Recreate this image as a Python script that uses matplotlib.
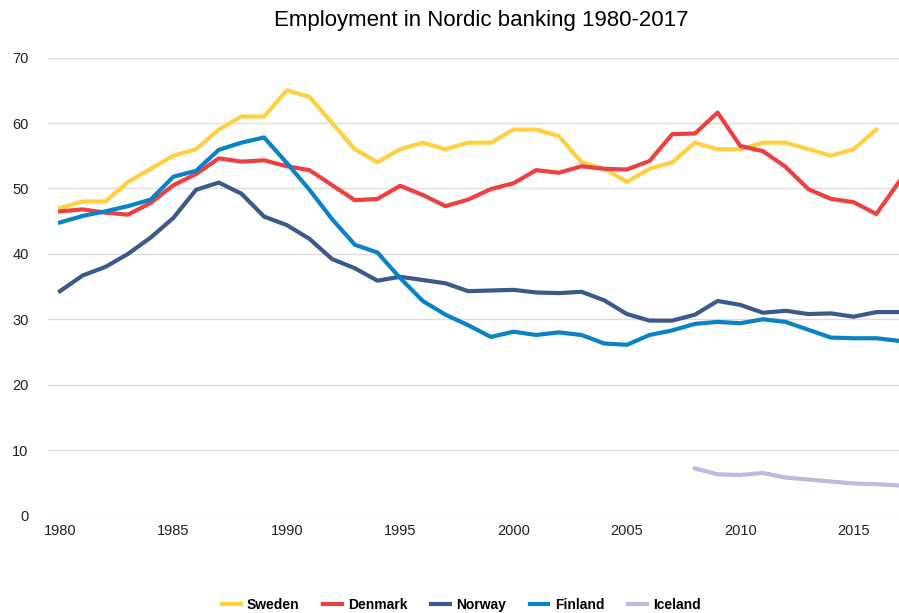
import matplotlib.pyplot as plt

plt.rcParams["font.family"] = ["Liberation Sans", "DejaVu Sans"]

# Employment (thousands)
years = list(range(1980, 2018))
sweden = [47, 48, 48, 51, 53, 55, 56, 59, 61, 61, 65, 64, 60, 56, 54, 56, 57, 56, 57, 57,
          59, 59, 58, 54, 53, 51, 53, 54, 57, 56, 56, 57, 57, 56, 55, 56, 59, None]
denmark = [46.5, 46.8, 46.3, 46.0, 47.8, 50.5, 52.2, 54.6, 54.1, 54.3, 53.4, 52.8, 50.5, 48.2,
           48.4, 50.4, 49.0, 47.3, 48.3, 49.9, 50.8, 52.8, 52.4, 53.4, 53.0, 52.9, 54.2, 58.3,
           58.4, 61.6, 56.5, 55.7, 53.3, 49.9, 48.4, 47.9, 46.1, 51.0]
norway = [34.3, 36.7, 38.0, 40.0, 42.5, 45.5, 49.8, 50.9, 49.2, 45.7, 44.4, 42.3, 39.2, 37.8,
          35.9, 36.5, 36.0, 35.5, 34.3, 34.4, 34.5, 34.1, 34.0, 34.2, 32.9, 30.8, 29.8, 29.8,
          30.7, 32.8, 32.2, 31.0, 31.3, 30.8, 30.9, 30.4, 31.1, 31.1]
finland = [44.8, 45.8, 46.5, 47.3, 48.3, 51.8, 52.7, 55.9, 57.0, 57.8, 53.9, 49.8, 45.3, 41.4,
           40.2, 36.3, 32.8, 30.7, 29.1, 27.3, 28.1, 27.6, 28.0, 27.6, 26.3, 26.1, 27.6, 28.3,
           29.3, 29.6, 29.4, 30.0, 29.6, 28.4, 27.2, 27.1, 27.1, 26.7]
iceland_years = list(range(2008, 2018))
iceland = [7.2, 6.3, 6.2, 6.5, 5.8, 5.5, 5.2, 4.9, 4.8, 4.6]

fig = plt.figure(figsize=(8.99, 6.13), dpi=100)
ax = fig.add_axes([0.0534, 0.159, 0.9466, 0.747])

sw_years = [y for y, v in zip(years, sweden) if v is not None]
sw_vals = [v for v in sweden if v is not None]

lw = 3.0
ax.plot(sw_years, sw_vals, color="#FFD03F", lw=lw, label="Sweden")
ax.plot(years, denmark, color="#EE4040", lw=lw, label="Denmark")
ax.plot(years, norway, color="#3A5A8A", lw=lw, label="Norway")
ax.plot(years, finland, color="#0A82C8", lw=lw, label="Finland")
ax.plot(iceland_years, iceland, color="#BBBBE2", lw=lw, label="Iceland")

ax.set_xlim(1979.47, 2017)
ax.set_ylim(0, 70)
ax.set_xticks(range(1980, 2016, 5))
ax.set_yticks(range(0, 71, 10))
ax.grid(axis="y", color="#DDDDDD", lw=1)
ax.set_axisbelow(True)
for s in ax.spines.values():
    s.set_visible(False)
ax.tick_params(length=0, labelsize=10.5, colors="#222222")
ax.tick_params(axis="y", pad=14)
ax.tick_params(axis="x", pad=6)

fig.suptitle("Employment in Nordic banking 1980-2017", fontsize=16, x=0.535, y=0.983)

leg = fig.legend(loc="lower center", bbox_to_anchor=(0.513, -0.018), ncol=5, frameon=False,
                 prop={"weight": "bold", "size": 10}, handlelength=1.35, columnspacing=1.7,
                 handletextpad=0.45)

fig.savefig("out.png", dpi=100)
